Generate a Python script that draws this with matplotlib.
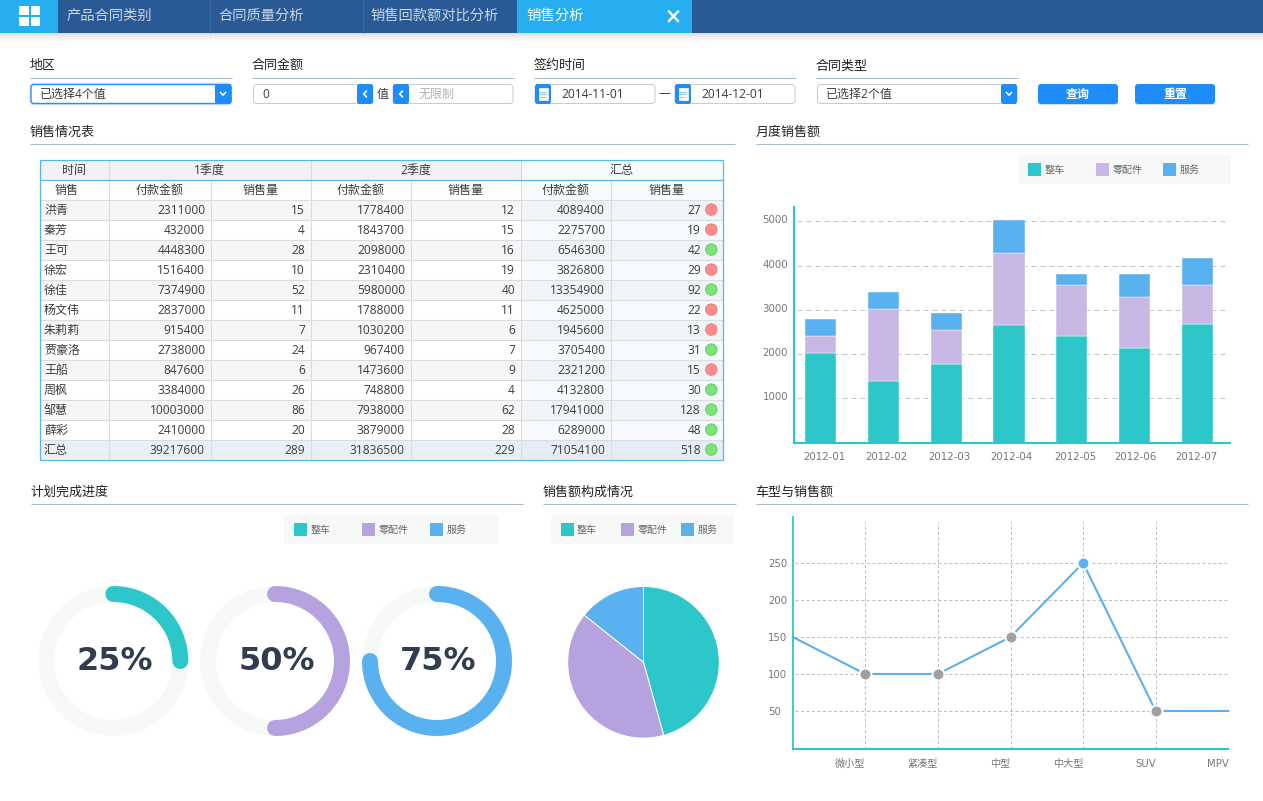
import numpy as np
import matplotlib
matplotlib.use("Agg")
import matplotlib.pyplot as plt
from matplotlib.patches import Rectangle, FancyBboxPatch, Circle
from matplotlib.transforms import ScaledTranslation

W, H = 1263, 801
UI = ['Open Sans', 'Noto Sans CJK SC', 'DejaVu Sans']
CH = ['DejaVu Sans', 'Noto Sans CJK SC']
plt.rcParams['font.family'] = UI

TEAL, PURPLE, PALE_PURPLE, BLUE = '#2EC7C9', '#B6A2DE', '#C9B7E6', '#5AB1EF'
SERIES = ['整车', '零配件', '服务']

# ---- data -----
months = ['2012-01', '2012-02', '2012-03', '2012-04', '2012-05', '2012-06', '2012-07']
vehicle = [2030, 1400, 1785, 2650, 2420, 2140, 2690]
parts = [380, 1610, 760, 1635, 1145, 1150, 865]
service = [385, 385, 385, 740, 240, 515, 625]

car_types = ['', '微小型', '紧凑型', '中型', '中大型', 'SUV', 'MPV']
car_sales = [150, 100, 100, 150, 250, 50, 50]

progress = [0.25, 0.50, 0.75]
composition = [320, 280, 100]

names = ['洪青', '秦芳', '王可', '徐宏', '徐佳', '杨文伟', '朱莉莉', '贾豪洛', '王船', '周枫', '邹慧', '薛彩', '汇总']
q1_pay = [2311000, 432000, 4448300, 1516400, 7374900, 2837000, 915400, 2738000, 847600, 3384000, 10003000, 2410000, 39217600]
q1_qty = [15, 4, 28, 10, 52, 11, 7, 24, 6, 26, 86, 20, 289]
q2_pay = [1778400, 1843700, 2098000, 2310400, 5980000, 1788000, 1030200, 967400, 1473600, 748800, 7938000, 3879000, 31836500]
q2_qty = [12, 15, 16, 19, 40, 11, 6, 7, 9, 4, 62, 28, 229]
total_pay = [4089400, 2275700, 6546300, 3826800, 13354900, 4625000, 1945600, 3705400, 2321200, 4132800, 17941000, 6289000, 71054100]
total_qty = [27, 19, 42, 29, 92, 22, 13, 31, 15, 30, 128, 48, 518]
QTY_TARGET = 30

fig = plt.figure(figsize=(W / 100, H / 100), dpi=100, facecolor='white')

def px_axes(l, t, r, b, z=2):
    a = fig.add_axes([l / W, 1 - b / H, (r - l) / W, (b - t) / H], zorder=z)
    a.patch.set_visible(False)
    return a

ui = fig.add_axes([0, 0, 1, 1], zorder=0)
ui.set_xlim(0, W)
ui.set_ylim(H, 0)
ui.axis('off')

def rect(x0, y0, x1, y1, c, z=1, **k):
    ui.add_patch(Rectangle((x0, y0), x1 - x0, y1 - y0, facecolor=c, edgecolor='none', zorder=z, **k))

def rrect(x0, y0, x1, y1, fc, ec='none', lw=0.7, z=1, r=3):
    ui.add_patch(FancyBboxPatch((x0, y0), x1 - x0, y1 - y0, boxstyle=f'round,pad=0,rounding_size={r}',
                                facecolor=fc, edgecolor=ec, linewidth=lw, zorder=z))

def txt(x, y, s, size=8.64, c='#3C3C3C', ha='left', z=5, **k):
    ui.text(x, y + 0.8, s, fontsize=size, color=c, ha=ha, va='center', zorder=z, **k)

def hline(x0, x1, y, c='#A9BCCD', lw=0.75, z=2):
    ui.plot([x0, x1], [y, y], color=c, lw=lw, zorder=z, solid_capstyle='butt')

def vline(x, y0, y1, c, lw=0.75, z=2):
    ui.plot([x, x], [y0, y1], color=c, lw=lw, zorder=z, solid_capstyle='butt')

# ---- navigation -----
for i in range(12):
    rect(0, 33 + i, W, 34 + i, '#000000', z=0, alpha=0.13 * (1 - i / 12) ** 2)
rect(0, 0, W, 33, '#2A5A96')
rect(0, 0, 58, 33, '#27AEF0', z=2)
rect(517, 0, 692, 33, '#27AEF0', z=2)
for x0, x1 in [(19, 29), (30.5, 39.5)]:
    for y0, y1 in [(6, 15), (17, 26)]:
        rect(x0, y0, x1, y1, 'white', z=3)
for x, s in [(67, '产品合同类别'), (218, '合同质量分析'), (370, '销售回款额对比分析')]:
    txt(x, 15.5, s, size=10.3, c='#CBD6E5')
for x in [210, 363]:
    vline(x, 0, 33, '#3A6AA5')
txt(526, 15.5, '销售分析', size=10.4, c='white')
ui.plot([669, 678], [11.5, 21], color='white', lw=1.7, zorder=4)
ui.plot([669, 678], [21, 11.5], color='white', lw=1.7, zorder=4)

# ---- filter bar -----
for x0, x1, s in [(30, 232, '地区'), (252, 514, '合同金额'), (534, 796, '签约时间'), (816, 1018, '合同类型')]:
    txt(x0 - 0.5, 65, s, size=9.36, c='#222222')
    hline(x0, x1, 78)

BTN = '#1E8CFB'
GREY = '#C6CBD0'
BOX_T, BOX_B = 84.5, 103.5

def chevron_down(cx, cy):
    ui.plot([cx - 2.5, cx, cx + 2.5], [cy - 1.5, cy + 1.2, cy - 1.5], color='white', lw=1.1, zorder=6)

def chevron_left(cx, cy):
    ui.plot([cx + 1.3, cx - 1.3, cx + 1.3], [cy - 2.8, cy, cy + 2.8], color='white', lw=1.2, zorder=6)

def blue_end(x0, x1, y0=84, y1=104):
    rrect(x0, y0, x1, y1, BTN, z=3, r=2.5)

def calendar(x0):
    blue_end(x0, x0 + 16)
    ui.add_patch(Rectangle((x0 + 3.5, 88), 9, 11.5, facecolor='white', edgecolor='white', lw=0.5, zorder=6))
    for gy in (91.5, 94, 96.5):
        ui.plot([x0 + 5, x0 + 11], [gy, gy], color=BTN, lw=0.7, ls=(0, (1, 1)), zorder=7)

# region select
rrect(29.5, 82.5, 232.5, 105.5, '#D8EAFE', z=1, r=4)
rrect(31, BOX_T, 231, BOX_B, 'white', ec='#2B8CFF', lw=1.0, z=2)
blue_end(215, 231.5)
chevron_down(223, 94)
txt(40, 93.5, '已选择4个值')
# amount
rrect(253.5, BOX_T, 373, BOX_B, 'white', ec=GREY, z=2)
blue_end(357, 373)
chevron_left(365, 94)
txt(262, 93.5, '0')
txt(377, 93.5, '值')
rrect(393, BOX_T, 513, BOX_B, 'white', ec=GREY, z=2)
blue_end(393, 409)
chevron_left(401, 94)
txt(419, 93.5, '无限制', c='#B5B5B5')
# dates
rrect(535, BOX_T, 655, BOX_B, 'white', ec=GREY, z=2)
calendar(535)
txt(561, 93.5, '2014-11-01')
txt(659, 92.5, '—', c='#333333')
rrect(675, BOX_T, 795, BOX_B, 'white', ec=GREY, z=2)
calendar(675)
txt(701, 93.5, '2014-12-01')
# type
rrect(817.5, BOX_T, 1017, BOX_B, 'white', ec=GREY, z=2)
blue_end(1001, 1017)
chevron_down(1009, 94)
txt(826, 93.5, '已选择2个值')
# buttons
for x0, x1, s in [(1038, 1118, '查询'), (1135, 1215, '重置')]:
    rrect(x0, 85, x1, 105, '#CFE0F2', z=1, r=3)
    rrect(x0, 84, x1, 104, BTN, z=2, r=3)
    txt((x0 + x1) / 2, 93.5, s, c='white', ha='center', fontweight='bold')

# ---- section headings -----
for x0, x1, y, s in [(30, 735, 131, '销售情况表'), (756, 1248, 131, '月度销售额'),
                     (31, 523, 491, '计划完成进度'), (543, 736, 491, '销售额构成情况'),
                     (756, 1248, 491, '车型与销售额')]:
    txt(x0 - 0.5, y + 0.7, s, size=9.36, c='#222222')
    hline(x0, x1, y + 13)
hline(0, W, 800.5, c='#DDE1E5')

# ---- legends -----
def legend(box, swatches, texts, colors):
    rrect(box[0], box[1], box[2], box[3], '#F7F9F8', z=1, r=2)
    y = (box[1] + box[3]) / 2
    for sx, tx, name, col in zip(swatches, texts, SERIES, colors):
        rect(sx, y - 6.5, sx + 13, y + 6.5, col, z=2)
        txt(tx, y - 0.3, name, size=7.2, c='#666666')

legend((1018, 155, 1231, 184), (1028, 1096, 1163), (1045, 1113, 1180), (TEAL, PALE_PURPLE, BLUE))
legend((284, 515, 498, 544), (294, 362, 430), (311, 379, 447), (TEAL, PURPLE, BLUE))
legend((551, 515, 734, 544), (561, 621, 681), (577, 638, 698), (TEAL, PURPLE, BLUE))

# ---- table -----
col_x = [39.7, 108.9, 210.7, 310.7, 410.7, 520.7, 610.7, 722.9]
y_h0, y_h1, y_h2, row_h = 160.0, 180.0, 199.6, 20.0
n_rows = len(names)
y_end = y_h2 + n_rows * row_h
BORDER = '#DADDE0'
FRAME = '#5AB4F0'

rect(col_x[0], y_h0, col_x[5], y_h1, '#F2F2F2')
rect(col_x[5], y_h0, col_x[7], y_h2, '#F8FBFE')
for i in range(n_rows):
    y0 = y_h2 + i * row_h
    last = i == n_rows - 1
    rect(col_x[0], y0, col_x[5], y0 + row_h, '#E9F1F8' if last else ('#F6F6F6' if i % 2 == 0 else 'white'))
    rect(col_x[5], y0, col_x[7], y0 + row_h, '#E5EEF6' if last else ('#F0F4F9' if i % 2 == 0 else '#F8FBFE'))
    hline(col_x[0], col_x[7], y0, c=BORDER, lw=0.8)
for j in (1, 2, 3, 4, 5, 6):
    top = y_h1 if j in (2, 4, 6) else y_h0
    vline(col_x[j], top, y_end, BORDER, lw=0.8)
hline(col_x[0], col_x[7], y_h1, c=FRAME, lw=0.9, z=3)
ui.add_patch(Rectangle((col_x[0], y_h0), col_x[7] - col_x[0], y_end - y_h0, facecolor='none',
                       edgecolor=FRAME, lw=0.9, zorder=4))
yc = (y_h0 + y_h1) / 2
txt((col_x[0] + col_x[1]) / 2, yc, '时间', ha='center')
txt((col_x[1] + col_x[3]) / 2, yc, '1季度', ha='center')
txt((col_x[3] + col_x[5]) / 2, yc, '2季度', ha='center')
txt((col_x[5] + col_x[7]) / 2, yc, '汇总', ha='center')
yc = (y_h1 + y_h2) / 2
for j, s in enumerate(['销售', '付款金额', '销售量', '付款金额', '销售量', '付款金额', '销售量']):
    txt((col_x[j] + col_x[j + 1]) / 2 - (8 if j == 0 else 0), yc, s, ha='center')
right_edges = [205, 305, 405, 515, 605, 701]
columns = [q1_pay, q1_qty, q2_pay, q2_qty, total_pay, total_qty]
for i, name in enumerate(names):
    yc = y_h2 + (i + 0.5) * row_h
    txt(44, yc, name)
    for rx, col in zip(right_edges, columns):
        txt(rx, yc, str(col[i]), ha='right')
    ok = total_qty[i] >= QTY_TARGET
    ui.add_patch(Circle((711.3, yc), 5.7, facecolor='#7FE27A' if ok else '#FF8C8C',
                        edgecolor='#68CE68' if ok else '#EE7C7C', lw=0.7, zorder=5))

# ---- monthly stacked bars -----
ax = px_axes(793.7, 207, 1230, 442.7)
step = 62.8
ax.set_xlim(-26.8 / step, 6 + 32.5 / step)
ax.set_ylim(0, 5324)
xs = np.arange(len(months))
bw = 31 / step
v, p, s = map(np.array, (vehicle, parts, service))
edge = dict(edgecolor='#FFFFFF', linewidth=0.3, zorder=3)
ax.bar(xs, v, bw, color=TEAL, **edge)
ax.bar(xs, p, bw, bottom=v, color=PALE_PURPLE, **edge)
ax.bar(xs, s, bw, bottom=v + p, color=BLUE, **edge)
yt = [1000, 2000, 3000, 4000, 5000]
ax.hlines(yt, 0.008, 1, transform=ax.get_yaxis_transform(), color='#C4C4C4', lw=0.72, linestyles=[(0, (5, 4))], zorder=1)
ax.set_yticks(yt)
ax.set_xticks(xs + np.array([0.056, 0.048, 0.048, 0.04, 0.05, 0.01, -0.01]))
ax.set_xticklabels(months)
ax.tick_params(length=0, labelsize=7.4, labelcolor='#777777', labelfontfamily='DejaVu Sans')
ax.tick_params(axis='x', pad=6.5)
ax.tick_params(axis='y', pad=4)
for lab in ax.get_yticklabels():
    lab.set_transform(lab.get_transform() + ScaledTranslation(0, 1.5 / 72, fig.dpi_scale_trans))
for sp in ('top', 'right'):
    ax.spines[sp].set_visible(False)
for sp in ('left', 'bottom'):
    ax.spines[sp].set_color(TEAL)
    ax.spines[sp].set_linewidth(1.5)
    ax.spines[sp].set_zorder(4)

# ---- progress rings -----
ring_colors = [TEAL, PURPLE, BLUE]
for cx, val, col in zip((113.3, 275, 437), progress, ring_colors):
    a = px_axes(cx - 80, 581, cx + 80, 741)
    a.set_xlim(-80, 80)
    a.set_ylim(-80, 80)
    a.axis('off')
    t = np.linspace(0, 2 * np.pi, 361)
    a.plot(67 * np.cos(t), 67 * np.sin(t), color='#F7F9F8', lw=11.5)
    t = np.pi / 2 - np.linspace(0, 2 * np.pi * val, 200)
    a.plot(67 * np.cos(t), 67 * np.sin(t), color=col, lw=11.5, solid_capstyle='round')
    a.text(1.5, -0.8, f'{val:.0%}', ha='center', va='center', fontsize=23, fontweight='bold',
           family='DejaVu Sans', color='#323C50')

# ---- composition pie -----
a = px_axes(563.5, 582.3, 723.5, 742.3)
a.pie(composition, colors=[TEAL, PURPLE, BLUE], startangle=90, counterclock=False, radius=1,
      wedgeprops=dict(edgecolor='white', linewidth=0.7))
a.set_xlim(-80 / 75.8, 80 / 75.8)
a.set_ylim(-80 / 75.8, 80 / 75.8)

# ---- car type line -----
ax = px_axes(792.7, 516.6, 1228.3, 748.9)
ax.set_xlim(0, 6)
ax.set_ylim(-1.2, 312.7)
xs = np.arange(len(car_types))
yt = [50, 100, 150, 200, 250]
grid = dict(color='#BDBDBD', lw=0.72, linestyles=[(0, (3, 2.5))], zorder=1)
ax.hlines(yt, 0.005, 1, transform=ax.get_yaxis_transform(), **grid)
ax.vlines(xs[1:], 0, 0.975, transform=ax.get_xaxis_transform(), **grid)
ax.plot(xs, car_sales, color=BLUE, lw=1.5, zorder=3, clip_on=False)
peak = int(np.argmax(car_sales))
for i in range(1, len(xs) - 1):
    ax.plot(xs[i], car_sales[i], 'o', ms=8.6, mfc=BLUE if i == peak else '#A0A0A0', mec='white', mew=1.44, zorder=4)
ax.set_yticks(yt)
ax.set_xticks(xs[1:])
ax.set_xticklabels(car_types[1:], ha='right', family=CH)
ax.tick_params(length=0, labelsize=7.3, labelcolor='#777777')
ax.tick_params(axis='x', pad=7.5)
ax.tick_params(axis='y', pad=17.8)
for lab in ax.get_yticklabels():
    lab.set_ha('left')
    lab.set_family('DejaVu Sans')
for sp in ('top', 'right'):
    ax.spines[sp].set_visible(False)
for sp, lw in (('left', 1.3), ('bottom', 1.5)):
    ax.spines[sp].set_color(TEAL)
    ax.spines[sp].set_linewidth(lw)
    ax.spines[sp].set_zorder(5)

fig.savefig('out.png', dpi=100, facecolor='white')
